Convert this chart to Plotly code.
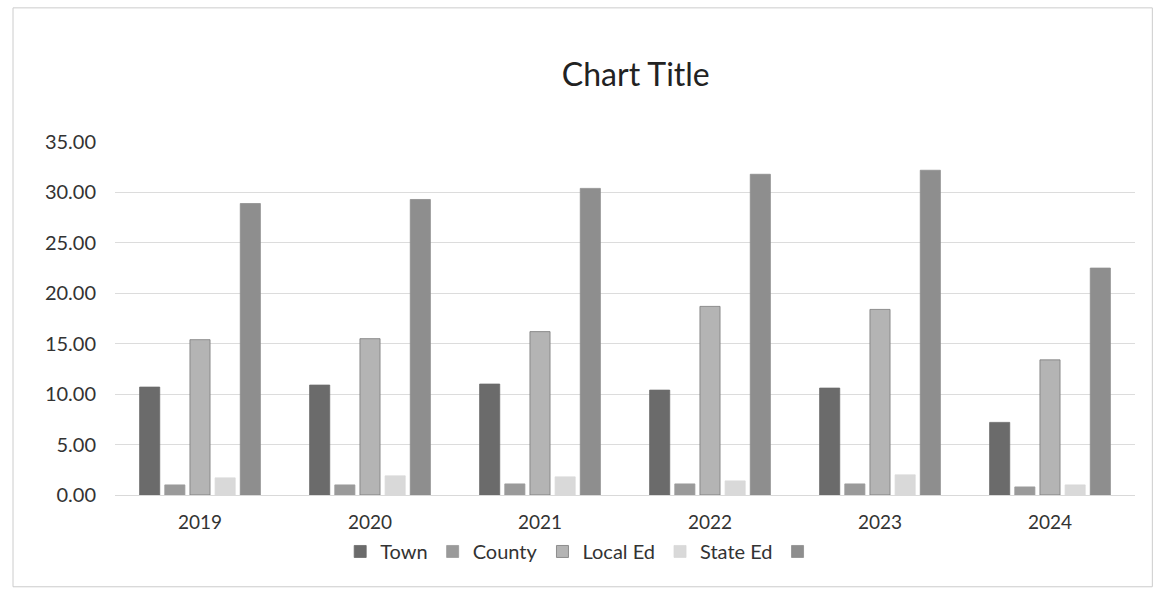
import plotly.graph_objects as go

years = ["2019", "2020", "2021", "2022", "2023", "2024"]
town = [10.7, 10.9, 11.0, 10.4, 10.6, 7.2]
county = [1.0, 1.0, 1.1, 1.1, 1.1, 0.8]
local_ed = [15.4, 15.5, 16.2, 18.7, 18.4, 13.4]
state_ed = [1.7, 1.9, 1.8, 1.4, 2.0, 1.0]
other = [28.9, 29.3, 30.4, 31.8, 32.2, 22.5]

series = [
    ("Town", town, "#6b6b6b"),
    ("County", county, "#9a9a9a"),
    ("Local Ed", local_ed, "#b4b4b4"),
    ("State Ed", state_ed, "#d9d9d9"),
    (" ", other, "#8e8e8e"),
]

fig = go.Figure()
for name, vals, col in series:
    fig.add_trace(go.Bar(
        x=years, y=vals, name=name,
        marker=dict(color=col, line=dict(color="#7a7a7a" if name == "Local Ed" else col, width=0.8)),
    ))

FONT = "Lato, 'Open Sans', sans-serif"
fig.update_layout(
    width=1156, height=589,
    paper_bgcolor="white", plot_bgcolor="white",
    barmode="group", bargap=0.26, bargroupgap=0.2,
    margin=dict(l=115, r=21, t=142, b=94),
    title=dict(text="Chart Title", x=0.55, xanchor="center", y=0.873, yanchor="middle",
               font=dict(family=FONT, size=32, color="#222222")),
    font=dict(family=FONT, color="#404040"),
    xaxis=dict(showgrid=False, showline=True, linecolor="#d9d9d9", ticks="",
               tickfont=dict(size=19, color="#333333"), ticklabelstandoff=10),
    yaxis=dict(range=[0, 35], dtick=5, tickformat=".2f", showgrid=True,
               gridcolor="#dcdcdc", gridwidth=1, zeroline=False,
               tickfont=dict(size=20, color="#333333"), ticks="", ticklabelstandoff=18),
    legend=dict(orientation="h", x=0.46, xanchor="center", y=-0.16, yanchor="middle",
                font=dict(size=20, color="#333333"), itemwidth=30, traceorder="normal"),
)
fig.add_shape(type="rect", xref="paper", yref="paper", x0=-0.1, x1=1.017, y0=-0.26, y1=1.38,
              line=dict(color="#cccccc", width=1), fillcolor="rgba(0,0,0,0)")

fig.write_html("out.html")
